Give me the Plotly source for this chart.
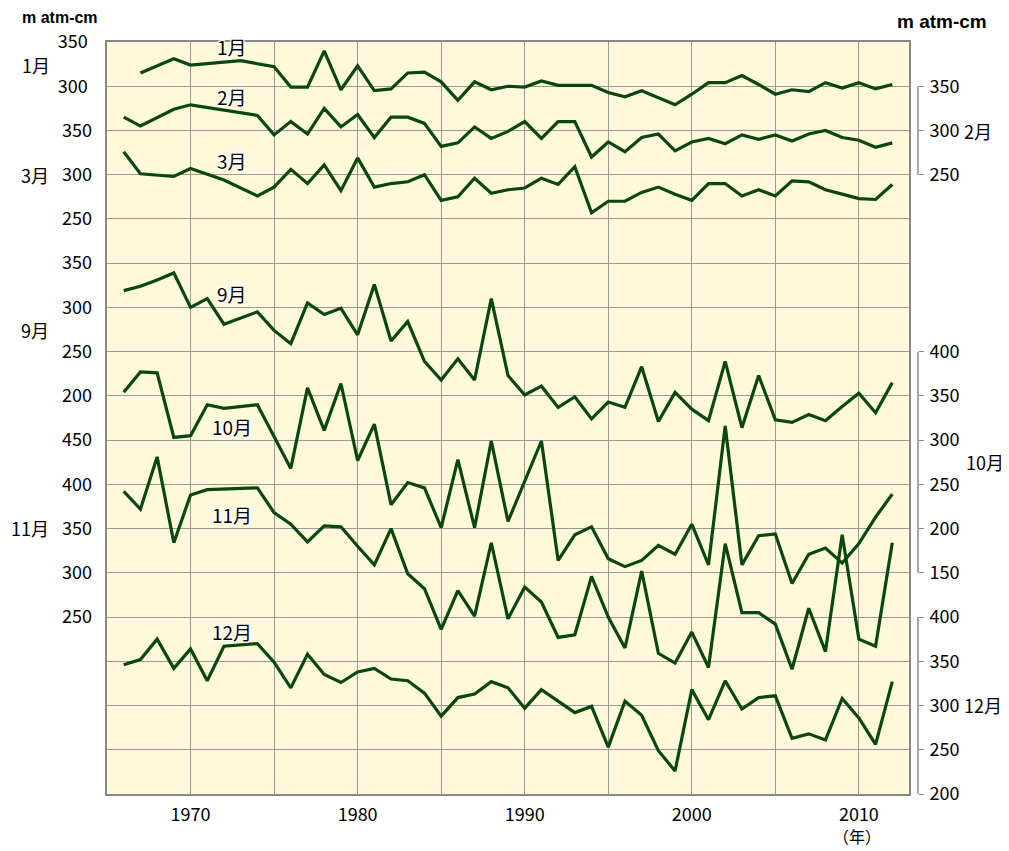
import plotly.graph_objects as go

years = list(range(1966, 2013))
N = None
jan = [N, 315, N, 331, 324, N, N, 329, N, 322, 299, 299, 340, 296, 323, 295, 297, 315, 316, 305,
       284, 305, 296, 300, 299, 306, 301, 301, 301, 293, 288, 295, 287, 279, 291, 304, 304, 312,
       302, 291, 296, 294, 304, 298, 304, 297, 302]
feb = [315, 305, N, 324, 329, N, N, N, 317, 295, 310, 296, 325, 304, 318, 292, 315, 315, 308, 282,
       286, 304, 291, 299, 310, 291, 310, 310, 270, 287, 276, 292, 296, 277, 287, 291, 285, 295,
       290, 295, 288, 296, 300, 292, 289, 281, 286]
mar = [326, 301, N, 298, 307, N, 294, N, 276, 286, 306, 290, 311, 282, 319, 286, 290, 292, 300, 271,
       275, 296, 279, 283, 285, 296, 289, 309, 257, 270, 270, 280, 286, 278, 271, 290, 290, 276,
       283, 276, 293, 292, 283, 278, 273, 272, 289]
sep = [319, 324, 331, 339, 300, 310, 281, N, 295, 274, 259, 305, 292, 299, 269, 326, 262, 284, 239, 218,
       242, 218, 310, 223, 201, 211, 187, 199, 174, 193, 187, 233, 171, 204, 185, 172, 239, 164,
       223, 173, 170, 179, 172, 188, 203, 181, 215]
oct_ = [354, 377, 376, 303, 305, 340, 336, N, 340, N, 268, 359, 311, 364, 277, 318, 227, 252, 246, 201,
        278, 201, 299, 208, N, 299, 164, 193, 202, 166, 157, 164, 181, 171, 205, 159, 316, 159,
        192, 194, 138, 171, 178, 161, 183, 213, 239]
nov = [392, 372, 431, 334, 388, 394, N, N, 396, 368, 355, 335, 353, 352, 330, 309, 350, 299, 282, 236,
       280, 251, 334, 248, 284, 267, 227, 230, 296, 250, 215, 302, 209, 198, 233, 193, 333, 255,
       255, 242, 191, 260, 211, 343, 225, 217, 334]
dec = [346, 352, 375, 342, 364, 328, 367, N, 370, 349, 320, 358, 335, 326, 338, 342, 330, 328, 314, 288,
       309, 313, 327, 320, 297, 318, 305, 292, 299, 253, 305, 289, 249, 226, 318, 284, 328, 296,
       309, 311, 263, 268, 261, 308, 286, 256, 327]

x_ticks = [1965, 1970, 1975, 1980, 1985, 1990, 1995, 2000, 2005, 2010]
x_labels = ["", "1970", "", "1980", "", "1990", "", "2000", "", "2010"]

OFF = 8  # default page body margin
W, H = 1009 - OFF, 851 - OFF
L, R, T, B = 107 - OFF, 918 - OFF, 42 - OFF, 794 - OFF
XEND = 909 - OFF
FONT = "Noto Sans CJK JP, Noto Sans, sans-serif"
GRID = "#9a9a9a"
LINE = "#0A470C"
TS = 18

def px_x(px):
    return (px - OFF - L) / (R - L)

def px_y(py):
    return (B - (py - OFF)) / (B - T)

series = [
    ("y", jan, [-500, 350], "left", [300, 350]),
    ("y2", feb, [-450, 400], "right", [250, 300, 350]),
    ("y3", mar, [-400, 450], "left", [250, 300, 350]),
    ("y4", sep, [-250, 600], "left", [200, 250, 300, 350]),
    ("y5", oct_, [-100, 750], "right", [150, 200, 250, 300, 350, 400]),
    ("y6", nov, [50, 900], "left", [250, 300, 350, 400, 450]),
    ("y7", dec, [200, 1050], "right", [200, 250, 300, 350, 400]),
]

fig = go.Figure()
for ax, vals, rng, side, tv in series:
    fig.add_trace(go.Scatter(x=years, y=vals, yaxis=ax, mode="lines", connectgaps=True,
                             line=dict(color=LINE, width=3.2), showlegend=False, hoverinfo="skip"))

layout = dict(
    width=W, height=H,
    margin=dict(l=L, r=W - R, t=T, b=H - B, autoexpand=False),
    paper_bgcolor="white", plot_bgcolor="#FFF8DA",
    showlegend=False,
    font=dict(family=FONT, size=TS, color="black"),
    xaxis=dict(domain=[0, (XEND - L) / (R - L)], range=[1965, 2013], tickvals=x_ticks, ticktext=x_labels,
               showgrid=True, gridcolor=GRID, gridwidth=1, showline=True, linecolor="#888888",
               linewidth=1.5, mirror=True, zeroline=False, ticks="", ticklabelstandoff=4,
               tickfont=dict(size=TS), automargin=False),
)
for i, (ax, vals, rng, side, tv) in enumerate(series):
    key = "yaxis" if ax == "y" else "yaxis" + ax[1:]
    d = dict(range=rng, zeroline=False, tickvals=tv, ticktext=[str(v) for v in tv],
             tickfont=dict(size=TS), showgrid=False, automargin=False)
    if ax == "y":
        allv = list(range(-500, 351, 50))
        d.update(tickvals=allv, ticktext=[str(v) if v in (300, 350) else "" for v in allv],
                 showgrid=True, gridcolor=GRID, gridwidth=1, showline=True, linecolor="#888888",
                 linewidth=1.5, mirror=True, ticks="", ticklabelstandoff=14, side="left")
    else:
        d.update(overlaying="y")
        if side == "left":
            d.update(side="left", anchor="x", ticks="", ticklabelstandoff=14)
        else:
            d.update(side="right", anchor="free", position=1.0, ticks="outside", ticklen=5,
                     tickcolor="#888888", tickwidth=1, ticklabelstandoff=2, showline=False)
    layout[key] = d
fig.update_layout(**layout)

# right axis bracket lines
for ax, lo, hi in [("y2", 250, 350), ("y5", 150, 400), ("y7", 200, 400)]:
    fig.add_shape(type="line", xref="paper", yref=ax, x0=1.0, x1=1.0, y0=lo, y1=hi,
                  line=dict(color="#888888", width=1.5))

halo = "-1px -1px 0 #fff, 1px -1px 0 #fff, -1px 1px 0 #fff, 1px 1px 0 #fff, 0 0 3px #fff"
inner = [("1月", 46), ("2月", 97), ("3月", 160), ("9月", 293), ("10月", 426), ("11月", 514), ("12月", 631)]
for txt, py in inner:
    fig.add_annotation(text=txt, xref="paper", yref="paper", x=px_x(232), y=px_y(py),
                       showarrow=False, font=dict(size=19, family=FONT, shadow=halo),
                       xanchor="center", yanchor="middle")

side_labels = [("1月", 36, 65), ("3月", 35, 175), ("9月", 35, 330), ("11月", 30, 528),
               ("2月", 978, 131), ("10月", 985, 462), ("12月", 983, 705)]
for txt, px, py in side_labels:
    fig.add_annotation(text=txt, xref="paper", yref="paper", x=px_x(px), y=px_y(py),
                       showarrow=False, font=dict(size=TS, family=FONT),
                       xanchor="center", yanchor="middle")

for px, py, sz in [(60, 17, 16), (942, 22, 19)]:
    fig.add_annotation(text="<b>m atm-cm</b>", xref="paper", yref="paper", x=px_x(px), y=px_y(py),
                       showarrow=False, font=dict(size=sz, family="Liberation Sans, Arial, sans-serif"),
                       xanchor="center", yanchor="middle")

fig.add_annotation(text="（年）", xref="paper", yref="paper", x=px_x(857), y=px_y(836),
                   showarrow=False, font=dict(size=16, family=FONT), xanchor="center", yanchor="middle")

fig.write_html("out.html")
